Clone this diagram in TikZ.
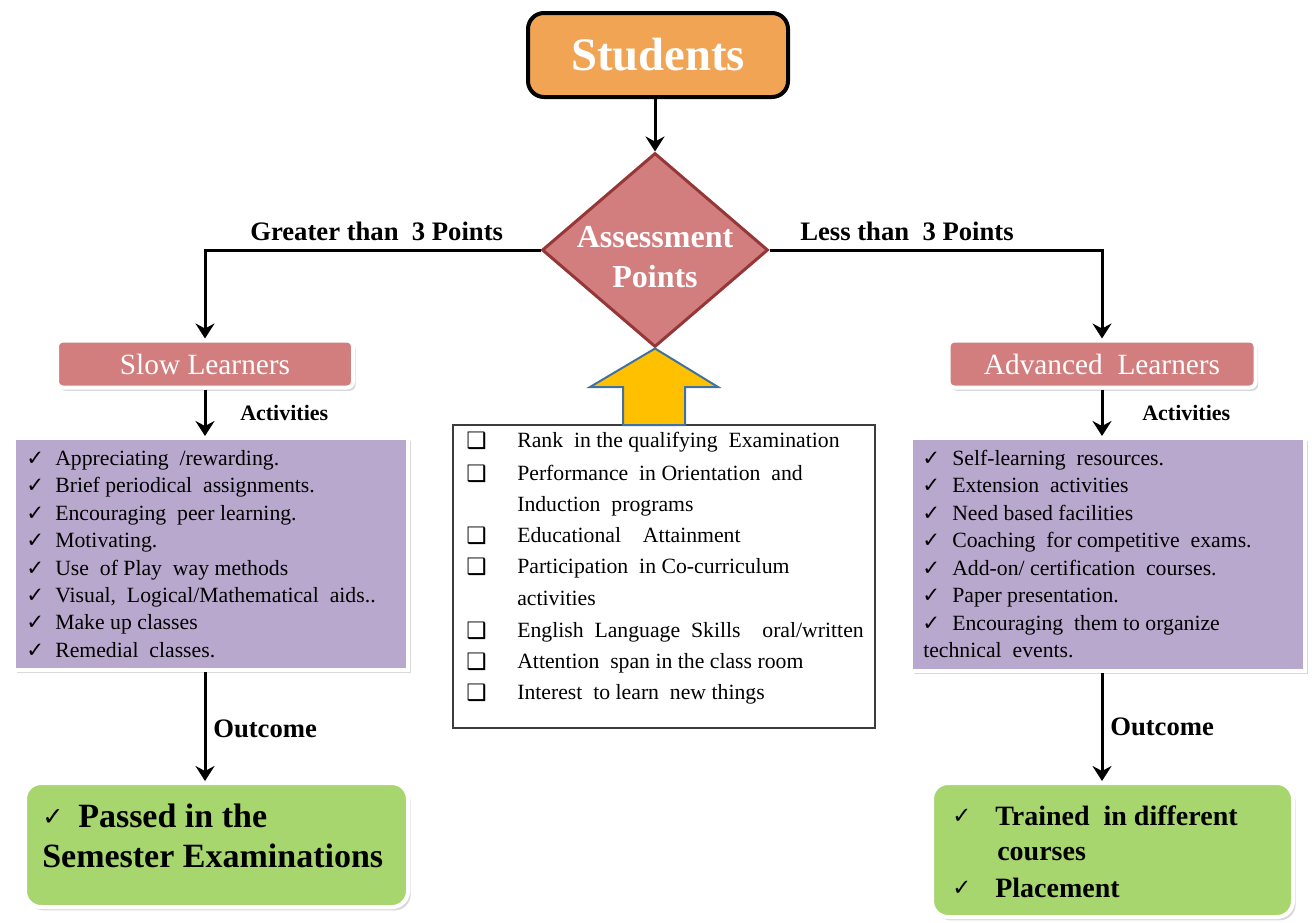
\documentclass[tikz,border=0pt]{standalone}
\usepackage{fontspec}
\setmainfont{Liberation Serif}
\newfontfamily\symfont{DejaVu Sans}
\usetikzlibrary{shapes.geometric,arrows.meta,shadows}
\newdimen\pu
\pu=0.75pt
\definecolor{orangefill}{RGB}{240,164,84}
\definecolor{rosefill}{RGB}{211,126,126}
\definecolor{roseedge}{RGB}{150,55,55}
\definecolor{lilac}{RGB}{185,168,205}
\definecolor{leaf}{RGB}{167,214,110}
\definecolor{gold}{RGB}{255,192,0}
\definecolor{steel}{RGB}{65,113,156}
\definecolor{framegray}{RGB}{60,60,60}
\begin{document}
\begin{tikzpicture}[x=0.75pt,y=-0.75pt,
  flow/.style={line width=3\pu,-{Stealth[length=11.25pt,width=14.25pt,inset=3.75pt]}},
  softbox/.style={draw=white,line width=4\pu,
    drop shadow={opacity=0.3,shadow xshift=2pt,shadow yshift=-2.5pt}},
  learner/.style={softbox,fill=rosefill,rounded corners=6\pu,inner sep=0pt,
    minimum height=47\pu,text=white,font=\fontsize{22}{26}\selectfont},
  activity/.style={softbox,fill=lilac,inner sep=0pt},
  result/.style={softbox,fill=leaf,rounded corners=16\pu,inner sep=0pt},
  item/.style={anchor=base west,inner sep=0pt,font=\fontsize{16.3}{19}\selectfont},
  tick/.style={anchor=base west,inner sep=0pt,font=\symfont\fontsize{16}{19}\selectfont},
  sqbox/.style={anchor=base west,inner sep=0pt,font=\symfont\fontsize{17}{20}\selectfont},
  tag/.style={anchor=base west,inner sep=0pt,font=\bfseries\fontsize{20}{24}\selectfont},
  subtag/.style={anchor=west,inner sep=0pt,font=\bfseries\fontsize{16.5}{20}\selectfont},
  bigtxt/.style={anchor=base west,inner sep=0pt,font=\bfseries\fontsize{25.5}{30}\selectfont},
  midtxt/.style={anchor=base west,inner sep=0pt,font=\bfseries\fontsize{21}{25}\selectfont}
]
\useasboundingbox (0,0) rectangle (1312,922);

% top node and decision
\node[draw=black,line width=4\pu,fill=orangefill,rounded corners=16\pu,
  minimum width=260\pu,minimum height=84\pu,inner sep=0pt,text=white,
  font=\bfseries\fontsize{35}{40}\selectfont] (stud) at (658,55) {Students};
\node[diamond,draw=roseedge,line width=3\pu,fill=rosefill,inner sep=0pt,
  minimum width=226\pu,minimum height=194\pu] (assess) at (655,250) {};
\node[align=center,inner sep=0pt,text=white,
  font=\bfseries\fontsize{24}{30}\selectfont] (assesstxt) at (655,257) {Assessment\\Points};
\draw[flow] (stud.south -| assess.north) -- (assess.north);

% learner groups
\node[learner,minimum width=296\pu] (slow) at (205,364) {Slow Learners};
\node[learner,minimum width=307\pu] (adv) at (1102,364) {Advanced\enspace Learners};
\draw[flow] (assess.west) -| (slow.north);
\draw[flow] (assess.east) -| (adv.north);
\node[tag] (gt) at (250,240) {Greater than\enspace 3 Points};
\node[tag] (lt) at (800,240) {Less than\enspace 3 Points};

% activity panels
\node[activity,minimum width=394\pu,minimum height=232\pu] (lpanel) at (211,554) {};
\node[activity,minimum width=394\pu,minimum height=233\pu] (rpanel) at (1108,554.5) {};
\draw[flow] (slow.south) -- (slow.south |- lpanel.north);
\draw[flow] (adv.south) -- (adv.south |- rpanel.north);
\node[subtag] (lact) at (240,413) {Activities};
\node[subtag] (ract) at (1142,413) {Activities};

\foreach \t [count=\i] in {Appreciating\enspace /rewarding.,
    Brief periodical\enspace assignments.,
    Encouraging\enspace peer learning.,
    Motivating.,
    Use\enspace of Play\enspace way methods,
    {Visual,\enspace Logical/Mathematical\enspace aids..},
    Make up classes,
    Remedial\enspace classes.}{
  \node[tick] (lck\i) at (26,465.5+27.4*\i-27.4) {✓};
  \node[item] (lit\i) at (55,465.5+27.4*\i-27.4) {\t};
}
\foreach \t [count=\i] in {Self-learning\enspace resources.,
    Extension\enspace activities,
    Need based facilities,
    Coaching\enspace for competitive\enspace exams.,
    Add-on/ certification\enspace courses.,
    Paper presentation.}{
  \node[tick] (rck\i) at (922,465.5+27.4*\i-27.4) {✓};
  \node[item] (rit\i) at (952,465.5+27.4*\i-27.4) {\t};
}
\node[tick] (rck7) at (922,630.5) {✓};
\node[item] (rit7) at (952,630.5) {Encouraging\enspace them to organize};
\node[item] (rit8) at (923,657.5) {technical\enspace events.};

% assessment criteria
\node[draw=framegray,line width=2\pu,fill=white,inner sep=0pt,
  minimum width=422\pu,minimum height=303\pu] (crit) at (664,576) {};
\draw[draw=steel,line width=2\pu,fill=gold,line join=miter]
  (assess.south) -- (718,387) -- (685,387) -- (685,425) -- (623,425)
  -- (623,387) -- (590,387) -- cycle;
\foreach \yy/\n in {448/1,481/2,543/3,574/4,638/5,669/6,700/7}
  \node[sqbox] (sq\n) at (466,\yy) {❑};
\node[item] (c1) at (517,447) {Rank\enspace in the qualifying\enspace Examination};
\node[item] (c2) at (517,480) {Performance\enspace in Orientation\enspace and};
\node[item] (c3) at (517,511) {Induction\enspace programs};
\node[item] (c4) at (517,542) {Educational\quad Attainment};
\node[item] (c5) at (517,573) {Participation\enspace in Co-curriculum};
\node[item] (c6) at (517,605) {activities};
\node[item] (c7) at (517,637) {English\enspace Language\enspace Skills\quad oral/written};
\node[item] (c8) at (517,668) {Attention\enspace span in the class room};
\node[item] (c9) at (517,699) {Interest\enspace to learn\enspace new things};

% outcomes
\node[result,minimum width=383\pu,minimum height=124\pu] (lres) at (216.5,845) {};
\node[result,minimum width=361\pu,minimum height=134\pu] (rres) at (1112.5,850) {};
\draw[flow] (lpanel.south -| slow.south) -- (slow.south |- lres.north);
\draw[flow] (rpanel.south -| adv.south) -- (adv.south |- rres.north);
\node[tag] (lout) at (213,737) {Outcome};
\node[tag] (rout) at (1110,735) {Outcome};

\node[anchor=base west,inner sep=0pt,font=\symfont\fontsize{19}{22}\selectfont] (lrck) at (42,825) {✓};
\node[bigtxt] (lr1) at (78,827) {Passed in the};
\node[bigtxt] (lr2) at (42,867) {Semester Examinations};

\node[anchor=base west,inner sep=0pt,font=\symfont\fontsize{17}{20}\selectfont] (rrck1) at (952,823) {✓};
\node[midtxt] (rr1) at (995,825) {Trained\enspace in different};
\node[midtxt] (rr2) at (997,860) {courses};
\node[anchor=base west,inner sep=0pt,font=\symfont\fontsize{17}{20}\selectfont] (rrck2) at (952,895) {✓};
\node[midtxt] (rr3) at (995,897) {Placement};
\end{tikzpicture}
\end{document}
